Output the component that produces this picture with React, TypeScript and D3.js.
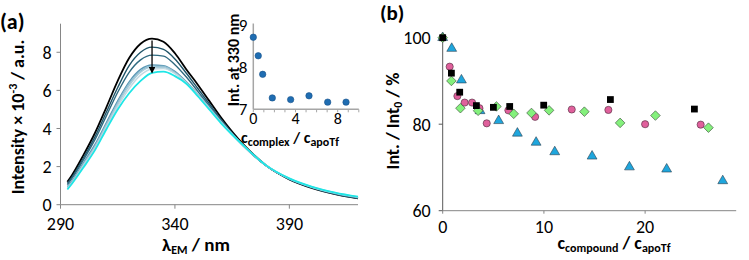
import * as d3 from "d3"

// ---- panel (a): emission spectra ----
const wavelengths = [293, 295, 300, 305, 310, 315, 320, 325, 330, 335, 340, 345, 350, 355, 360, 370, 380, 390, 400, 410, 420]
const spec0 = [1.2, 1.55, 2.6, 3.75, 5.1, 6.5, 7.7, 8.45, 8.72, 8.55, 7.95, 7.1, 6.3, 5.45, 4.6, 3.15, 2.05, 1.33, 0.87, 0.55, 0.33]
const spec1 = [1.12, 1.45, 2.45, 3.55, 4.85, 6.15, 7.3, 8.0, 8.27, 8.15, 7.65, 6.9, 6.1, 5.3, 4.5, 3.1, 2.03, 1.33, 0.88, 0.56, 0.34]
const spec2 = [1.05, 1.38, 2.35, 3.4, 4.65, 5.9, 6.95, 7.6, 7.85, 7.8, 7.35, 6.7, 5.95, 5.2, 4.45, 3.08, 2.03, 1.34, 0.89, 0.57, 0.35]
const spec3 = [0.95, 1.25, 2.2, 3.15, 4.3, 5.45, 6.45, 7.1, 7.33, 7.3, 7.0, 6.45, 5.8, 5.1, 4.38, 3.07, 2.04, 1.36, 0.91, 0.6, 0.38]
const spec4 = [0.9, 1.2, 2.12, 3.05, 4.2, 5.35, 6.35, 7.02, 7.27, 7.25, 6.95, 6.42, 5.78, 5.08, 4.37, 3.08, 2.05, 1.37, 0.92, 0.61, 0.39]
const spec5 = [0.87, 1.16, 2.08, 3.0, 4.12, 5.25, 6.25, 6.95, 7.22, 7.2, 6.9, 6.4, 5.76, 5.06, 4.35, 3.08, 2.05, 1.37, 0.93, 0.62, 0.4]
const spec6 = [0.84, 1.13, 2.03, 2.93, 4.05, 5.15, 6.1, 6.8, 7.12, 7.14, 6.88, 6.38, 5.74, 5.04, 4.33, 3.09, 2.05, 1.38, 0.93, 0.63, 0.41]
const spec7 = [0.8, 1.1, 1.95, 2.85, 3.95, 5.0, 5.85, 6.5, 6.92, 6.98, 6.75, 6.35, 5.7, 5.0, 4.3, 3.1, 2.05, 1.38, 0.94, 0.64, 0.42]
const spectra = [spec0, spec1, spec2, spec3, spec4, spec5, spec6, spec7]
const specColors = ["#000000", "#1f5468", "#2f6a80", "#5a97b4", "#8cbcd0", "#a9cbd9", "#c2d9e2", "#1ee6e6"]
const xTicksA = [290, 340, 390]
const yTicksA = [0, 2, 4, 6, 8]
const arrowFrom = [330, 8.62]
const arrowTo = [330, 6.95]

// inset
const insetRatio = [0, 0.47, 0.89, 1.8, 3.54, 5.28, 7.05, 8.79]
const insetInt = [8.71, 8.27, 7.83, 7.27, 7.23, 7.32, 7.17, 7.17]
const insetXTicks = [0, 4, 8]
const insetYTicks = [7, 8, 9]

// ---- panel (b): quenching ----
const squareX = [0, 0.86, 1.68, 3.33, 5.01, 6.62, 9.98, 16.57, 24.87]
const squareY = [100, 91.8, 87.4, 84.3, 83.9, 84.1, 84.4, 85.7, 83.5]
const circleX = [0, 0.69, 1.45, 2.17, 2.9, 3.63, 4.35, 6.49, 9.13, 12.75, 16.37, 20.0, 25.49]
const circleY = [100, 93.3, 86.5, 85.0, 85.0, 83.7, 80.2, 83.2, 81.7, 83.4, 83.3, 80.0, 79.9]
const diamondX = [0, 0.86, 1.75, 3.5, 5.31, 7.02, 8.77, 10.51, 14.0, 17.53, 21.02, 26.26]
const diamondY = [100, 90.0, 83.7, 83.1, 84.1, 82.4, 82.6, 83.2, 82.9, 80.3, 82.0, 79.2]
const triangleX = [0, 0.89, 1.85, 3.69, 5.53, 7.38, 9.23, 11.07, 14.76, 18.45, 22.13, 27.67]
const triangleY = [100, 97.5, 90.2, 83.1, 80.8, 77.9, 75.8, 73.6, 72.6, 70.1, 69.6, 66.9]
const xTicksB = [0, 10, 20]
const yTicksB = [60, 80, 100]

const FONT = "Carlito, Lato, 'Open Sans', sans-serif"
const AXIS = "#868686"

export default function App() {
  // panel a scales
  const xA = d3.scaleLinear().domain([290, 420]).range([60.5, 358])
  const yA = d3.scaleLinear().domain([0, 9.5]).range([204.7, 23.7])
  const line = d3.line<number>()
    .x((_, i) => xA(wavelengths[i]))
    .y(d => yA(d))
    .curve(d3.curveMonotoneX)

  // inset scales
  const xI = d3.scaleLinear().domain([0, 10]).range([253.3, 358.8])
  const yI = d3.scaleLinear().domain([7, 9]).range([109.3, 25])

  // panel b scales
  const xB = d3.scaleLinear().domain([0, 29]).range([442.7, 736.2])
  const yB = d3.scaleLinear().domain([60, 100]).range([210.7, 37.7])

  const sq = d3.symbol().type(d3.symbolSquare).size(46)()
  const dia = d3.symbol().type(d3.symbolSquare).size(46)()
  const tri = d3.symbol().type(d3.symbolTriangle).size(42)()

  return (
    <svg width={749} height={260} style={{ position: "absolute", left: 0, top: 0, background: "#fff" }}
      fontFamily={FONT}>
      <defs>
        <marker id="arrowhead" viewBox="0 0 10 10" refX="8" refY="5" markerWidth="5" markerHeight="5" orient="auto">
          <path d="M0,0 L10,5 L0,10 z" fill="#000" />
        </marker>
      </defs>

      {/* ---------- panel (a) ---------- */}
      <text x={0} y={29} fontSize={22} fontWeight="bold">(a)</text>

      {spectra.map((s, i) => (
        <path key={i} d={line(s) || ""} fill="none" stroke={specColors[i]}
          strokeWidth={i === 0 || i === 7 ? 1.8 : 1.4} />
      ))}
      <line x1={xA(arrowFrom[0])} y1={yA(arrowFrom[1])} x2={xA(arrowTo[0])} y2={yA(arrowTo[1])}
        stroke="#000" strokeWidth={1.3} markerEnd="url(#arrowhead)" />

      {/* axes a */}
      <line x1={xA(290)} x2={xA(290)} y1={yA(9.5)} y2={yA(0)} stroke={AXIS} strokeWidth={1} />
      <line x1={xA(290)} x2={xA(420)} y1={yA(0)} y2={yA(0)} stroke={AXIS} strokeWidth={1} />
      {yTicksA.map(t => (
        <g key={t}>
          <line x1={xA(290) - 4} x2={xA(290)} y1={yA(t)} y2={yA(t)} stroke={AXIS} />
          <text x={xA(290) - 9} y={yA(t)} dy="0.35em" textAnchor="end" fontSize={18}>{t}</text>
        </g>
      ))}
      {xTicksA.map(t => (
        <g key={t}>
          <line x1={xA(t)} x2={xA(t)} y1={yA(0)} y2={yA(0) + 4} stroke={AXIS} />
          <text x={xA(t)} y={230} textAnchor="middle" fontSize={18}>{t}</text>
        </g>
      ))}
      <text transform="translate(24,117) rotate(-90)" textAnchor="middle" fontSize={18} fontWeight="bold">
        Intensity × 10<tspan dy={-7} fontSize={12}>-3</tspan><tspan dy={7}> / a.u.</tspan>
      </text>
      <text x={196} y={251} textAnchor="middle" fontSize={19} fontWeight="bold">
        λ<tspan dy={3} fontSize={12}>EM</tspan><tspan dy={-3}> / nm</tspan>
      </text>

      {/* inset */}
      <line x1={xI(0)} x2={xI(0)} y1={yI(9) - 1.5} y2={yI(7)} stroke="#a6a6a6" strokeWidth={1.5} />
      <line x1={xI(0)} x2={xI(10)} y1={yI(7)} y2={yI(7)} stroke="#a6a6a6" strokeWidth={1.5} />
      {d3.range(0, 11).map(t => (
        <line key={t} x1={xI(t)} x2={xI(t)} y1={yI(7)} y2={yI(7) + 3} stroke="#a6a6a6" />
      ))}
      {insetYTicks.map(t => (
        <text key={t} x={xI(0) - 6} y={yI(t)} dy="0.35em" textAnchor="end" fontSize={17}>{t}</text>
      ))}
      {insetXTicks.map(t => (
        <text key={t} x={xI(t)} y={124} textAnchor="middle" fontSize={16}>{t}</text>
      ))}
      {insetRatio.map((r, i) => (
        <circle key={i} cx={xI(r)} cy={yI(insetInt[i])} r={3.2} fill="#1f6db2" stroke="#19538a" strokeWidth={0.6} />
      ))}
      <text transform="translate(239,60) rotate(-90)" textAnchor="middle" fontSize={16} fontWeight="bold">
        Int. at 330 nm
      </text>
      <text x={290} y={143} textAnchor="middle" fontSize={16} fontWeight="bold">
        c<tspan dy={3} fontSize={12}>complex</tspan><tspan dy={-3}> / c</tspan><tspan dy={3} fontSize={12}>apoTf</tspan>
      </text>

      {/* ---------- panel (b) ---------- */}
      <text x={380} y={20} fontSize={21} fontWeight="bold">(b)</text>

      <line x1={xB(0)} x2={xB(0)} y1={yB(100) - 2} y2={yB(60)} stroke="#595959" strokeWidth={1} />
      <line x1={xB(0)} x2={xB(29)} y1={yB(60)} y2={yB(60)} stroke={AXIS} strokeWidth={1} />
      {yTicksB.map(t => (
        <g key={t}>
          <line x1={xB(0) - 4} x2={xB(0)} y1={yB(t)} y2={yB(t)} stroke="#595959" />
          <text x={xB(0) - 12} y={yB(t)} dy="0.35em" textAnchor="end" fontSize={18}>{t}</text>
        </g>
      ))}
      {xTicksB.map(t => (
        <g key={t}>
          <line x1={xB(t)} x2={xB(t)} y1={yB(60)} y2={yB(60) + 3} stroke={AXIS} />
          <text x={xB(t)} y={233} textAnchor="middle" fontSize={18}>{t}</text>
        </g>
      ))}
      <text transform="translate(399,121) rotate(-90)" textAnchor="middle" fontSize={18} fontWeight="bold">
        Int. / Int<tspan dy={3} fontSize={12}>0</tspan><tspan dy={-3}> / %</tspan>
      </text>
      <text x={614} y={249} textAnchor="middle" fontSize={18} fontWeight="bold">
        c<tspan dy={3} fontSize={12}>compound</tspan><tspan dy={-3}> / c</tspan><tspan dy={3} fontSize={12}>apoTf</tspan>
      </text>

      {triangleX.map((x, i) => (
        <path key={"t" + i} d={tri || ""} transform={`translate(${xB(x)},${yB(triangleY[i])})`}
          fill="#1fa6dd" stroke="#2b3f4f" strokeWidth={0.6} />
      ))}
      {circleX.map((x, i) => (
        <circle key={"c" + i} cx={xB(x)} cy={yB(circleY[i])} r={3.6}
          fill="#e0609c" stroke="#4a2a3a" strokeWidth={0.6} />
      ))}
      {diamondX.map((x, i) => (
        <path key={"d" + i} d={dia || ""} transform={`translate(${xB(x)},${yB(diamondY[i])}) rotate(45)`}
          fill="#84f07c" stroke="#3a4f3a" strokeWidth={0.6} />
      ))}
      {squareX.map((x, i) => (
        <path key={"s" + i} d={sq || ""} transform={`translate(${xB(x)},${yB(squareY[i])})`}
          fill="#000" />
      ))}
    </svg>
  )
}
